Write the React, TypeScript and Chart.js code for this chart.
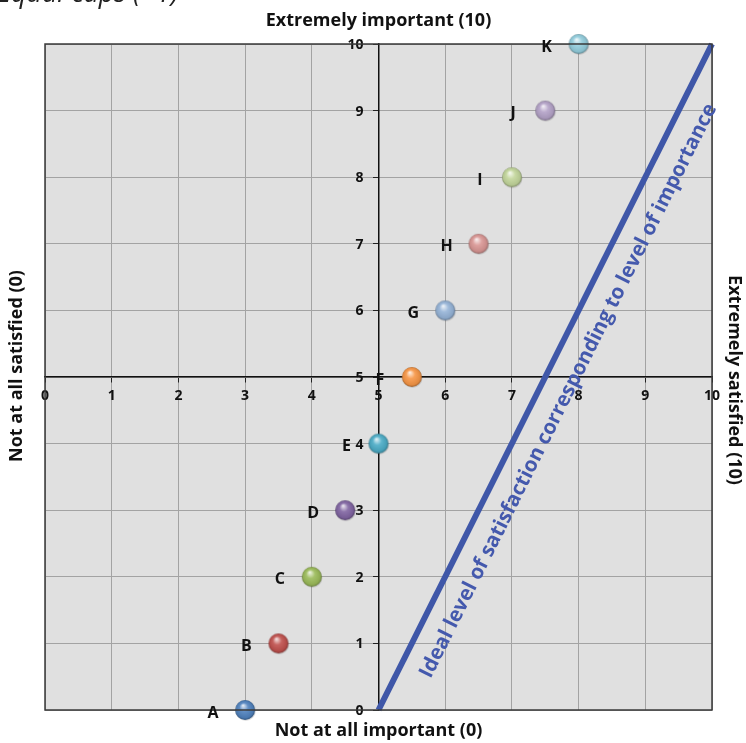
import React, { useEffect, useRef } from 'react';
import { Chart, registerables } from 'chart.js';

Chart.register(...registerables);

// ---------- data ----------
const pointLabels = ['A', 'B', 'C', 'D', 'E', 'F', 'G', 'H', 'I', 'J', 'K'];
const satisfaction = [3, 3.5, 4, 4.5, 5, 5.5, 6, 6.5, 7, 7.5, 8];
const importance = [0, 1, 2, 3, 4, 5, 6, 7, 8, 9, 10];
const pointColors = [
  '#4F81BD', '#C0504D', '#9BBB59', '#8064A2', '#4BACC6', '#F79646',
  '#95B3D7', '#D99694', '#C3D69B', '#B3A2C7', '#93CDDD',
];
const idealSatisfaction = [5, 10];
const idealImportance = [0, 10];
const axisMin = 0;
const axisMax = 10;
const axisStep = 1;
const crossAt = 5;

const titleTop = 'Extremely important (10)';
const titleBottom = 'Not at all important (0)';
const titleLeft = 'Not at all satisfied (0)';
const titleRight = 'Extremely satisfied (10)';
const idealText = 'Ideal level of satisfaction corresponding to level of importance';
const cutTitle = 'Equal caps (=1)';

const FONT = '"Open Sans", "DejaVu Sans", sans-serif';
const LINE_BLUE = '#3F57A8';

// ---------- helpers ----------
function hexToRgb(h: string) {
  const n = parseInt(h.slice(1), 16);
  return [(n >> 16) & 255, (n >> 8) & 255, n & 255];
}
function mix(h: string, t: number[], f: number) {
  const c = hexToRgb(h);
  const r = c.map((v, i) => Math.round(v + (t[i] - v) * f));
  return `rgb(${r[0]},${r[1]},${r[2]})`;
}
function makeSphere(color: string, r: number) {
  const size = r * 2 + 4;
  const c = document.createElement('canvas');
  c.width = size;
  c.height = size;
  const g = c.getContext('2d')!;
  const cx = size / 2;
  const cy = size / 2;
  g.beginPath();
  g.arc(cx + 0.6, cy + 1, r, 0, Math.PI * 2);
  g.fillStyle = 'rgba(0,0,0,0.12)';
  g.fill();
  const grad = g.createRadialGradient(cx - r * 0.2, cy - r * 0.45, r * 0.05, cx, cy, r);
  grad.addColorStop(0, mix(color, [255, 255, 255], 0.8));
  grad.addColorStop(0.4, mix(color, [255, 255, 255], 0.1));
  grad.addColorStop(0.85, mix(color, [0, 0, 0], 0.08));
  grad.addColorStop(1, mix(color, [0, 0, 0], 0.35));
  g.beginPath();
  g.arc(cx, cy, r, 0, Math.PI * 2);
  g.fillStyle = grad;
  g.fill();
  return c;
}

const decorPlugin = {
  id: 'decor',
  beforeDraw(chart: any) {
    const { ctx, chartArea: a } = chart;
    ctx.save();
    ctx.fillStyle = '#E0E0E0';
    ctx.fillRect(a.left, a.top, a.right - a.left, a.bottom - a.top);
    ctx.restore();
  },
  beforeDatasetsDraw(chart: any) {
    // y tick labels, placed left of the centred vertical axis
    const { ctx, scales } = chart;
    const axisX = scales.x.getPixelForValue(crossAt);
    ctx.save();
    ctx.fillStyle = '#111';
    ctx.font = `bold 14px ${FONT}`;
    ctx.textAlign = 'right';
    ctx.textBaseline = 'middle';
    scales.y.ticks.forEach((t: any) => {
      ctx.fillText(String(t.value), axisX - 15, scales.y.getPixelForValue(t.value) + 1);
    });
    ctx.restore();
  },
  afterDatasetsDraw(chart: any) {
    const { ctx, chartArea: a, scales } = chart;
    ctx.save();
    // frame
    ctx.strokeStyle = '#3A3A3A';
    ctx.lineWidth = 1.5;
    ctx.strokeRect(a.left, a.top, a.right - a.left, a.bottom - a.top);

    // point labels
    const meta = chart.getDatasetMeta(0);
    ctx.fillStyle = '#111';
    ctx.font = `bold 16px ${FONT}`;
    ctx.textAlign = 'center';
    ctx.textBaseline = 'middle';
    meta.data.forEach((el: any, i: number) => {
      ctx.fillText(pointLabels[i], el.x - 32, el.y + 3);
    });

    // ideal text along the line
    const x0 = scales.x.getPixelForValue(idealSatisfaction[0]);
    const y0 = scales.y.getPixelForValue(idealImportance[0]);
    const x1 = scales.x.getPixelForValue(idealSatisfaction[1]);
    const y1 = scales.y.getPixelForValue(idealImportance[1]);
    const ang = Math.atan2(y1 - y0, x1 - x0);
    ctx.translate((x0 + x1) / 2, (y0 + y1) / 2);
    ctx.rotate(ang);
    ctx.fillStyle = '#4459AD';
    ctx.font = `bold 20.5px ${FONT}`;
    ctx.textAlign = 'center';
    ctx.textBaseline = 'middle';
    ctx.fillText(idealText, -2, 27);
    ctx.restore();
  },
  afterDraw(chart: any) {
    const { ctx, chartArea: a } = chart;
    const cx = (a.left + a.right) / 2;
    ctx.save();
    ctx.fillStyle = '#111';
    ctx.font = `bold 18px ${FONT}`;
    ctx.textAlign = 'center';
    ctx.textBaseline = 'middle';
    ctx.fillText(titleTop, cx, 21);
    ctx.fillText(titleBottom, cx, 731);
    ctx.save();
    ctx.translate(17, 366);
    ctx.rotate(-Math.PI / 2);
    ctx.fillText(titleLeft, 0, 0);
    ctx.restore();
    ctx.save();
    ctx.translate(734, 380);
    ctx.rotate(Math.PI / 2);
    ctx.fillText(titleRight, 0, 0);
    ctx.restore();
    // cut-off heading
    ctx.font = `italic 27px ${FONT}`;
    ctx.textAlign = 'left';
    ctx.textBaseline = 'alphabetic';
    ctx.fillStyle = '#222';
    ctx.fillText(cutTitle, -3, 2);
    ctx.restore();
  },
};

export default function App() {
  const ref = useRef<HTMLCanvasElement>(null);
  useEffect(() => {
    const canvas = ref.current!;
    const spheres = pointColors.map((c) => makeSphere(c, 10));
    const tickFont = { family: FONT, size: 14, weight: 'bold' as const };
    const chart = new Chart(canvas, {
      type: 'scatter',
      data: {
        datasets: [
          {
            label: 'Items',
            data: satisfaction.map((x, i) => ({ x, y: importance[i] })),
            pointStyle: spheres as any,
            pointRadius: 10,
            backgroundColor: pointColors,
            clip: false as any,
          },
          {
            label: 'Ideal',
            data: idealSatisfaction.map((x, i) => ({ x, y: idealImportance[i] })),
            showLine: true,
            borderColor: LINE_BLUE,
            borderWidth: 6,
            pointRadius: 0,
            clip: false as any,
          },
        ],
      },
      options: {
        animation: false,
        responsive: false,
        devicePixelRatio: 1,
        layout: { padding: { left: 45, right: 34, top: 44, bottom: 33 } },
        plugins: {
          legend: { display: false },
          tooltip: { enabled: false },
          title: { display: false },
        },
        scales: {
          x: {
            type: 'linear',
            min: axisMin,
            max: axisMax,
            position: { y: crossAt } as any,
            ticks: { stepSize: axisStep, font: tickFont, color: '#111', padding: 6, maxRotation: 0 },
            grid: { color: '#A3A3A3', lineWidth: 1, tickLength: 5, tickColor: '#222' },
            border: { display: true, color: '#111', width: 1.5 },
          },
          y: {
            type: 'linear',
            min: axisMin,
            max: axisMax,
            position: { x: crossAt } as any,
            ticks: { stepSize: axisStep, display: false },
            grid: { color: '#A3A3A3', lineWidth: 1, tickLength: 5, tickColor: '#222' },
            border: { display: true, color: '#111', width: 1.5 },
          },
        },
      },
      plugins: [decorPlugin],
    });
    return () => chart.destroy();
  }, []);
  return (
    <div style={{ position: 'fixed', left: 0, top: 0, width: 746, height: 743, background: '#fff' }}>
      <canvas ref={ref} width={746} height={743} style={{ display: 'block' }} />
    </div>
  );
}
